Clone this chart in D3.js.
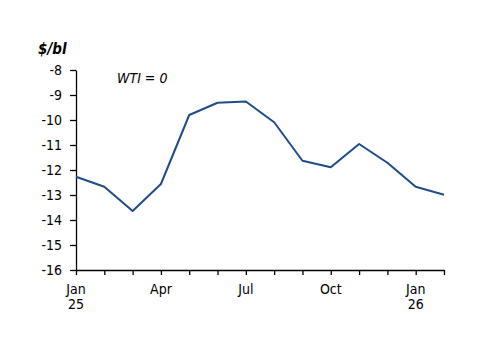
<!DOCTYPE html>
<html>
<head>
<meta charset="utf-8">
<script src="https://cdn.jsdelivr.net/npm/d3@7"></script>
<style>
  body { margin: 0; background: #fff; }
  svg text { font-family: "DejaVu Sans Condensed", "DejaVu Sans", sans-serif; fill: #000; }
</style>
</head>
<body>
<svg id="chart" width="500" height="353"></svg>
<script>
// monthly spread, Jan 25 .. Feb 26
const months = ['2025-01', '2025-02', '2025-03', '2025-04', '2025-05', '2025-06', '2025-07',
  '2025-08', '2025-09', '2025-10', '2025-11', '2025-12', '2026-01', '2026-02']
const values = [-12.27, -12.67, -13.64, -12.56, -9.8, -9.31, -9.26,
  -10.09, -11.63, -11.89, -10.96, -11.71, -12.67, -12.99]
const yTicks = [-16, -15, -14, -13, -12, -11, -10, -9, -8]
const xLabels = [['Jan', '25'], ['Apr'], ['Jul'], ['Oct'], ['Jan', '26']]
const xLabelIdx = [0, 3, 6, 9, 12]

const svg = d3.select('#chart')
const margin = {top: 70, right: 56, bottom: 83, left: 76}
const width = 500 - margin.left - margin.right
const height = 353 - margin.top - margin.bottom

const g = svg.append('g').attr('transform', `translate(${margin.left}, ${margin.top})`)

const x = d3.scalePoint().domain(months).range([0, width])
const y = d3.scaleLinear().domain([-16, -8]).range([height, 0])

const yAxis = g.append('g')
  .call(d3.axisLeft(y).tickValues(yTicks).tickSize(6).tickPadding(8).tickSizeOuter(0)
    .tickFormat(d => String(d)))
yAxis.selectAll('text').style('font-size', '14px')

const xAxis = g.append('g')
  .attr('transform', `translate(0, ${height})`)
  .call(d3.axisBottom(x).tickSize(5).tickSizeOuter(0).tickFormat(''))
g.selectAll('.domain').attr('stroke', '#000').attr('stroke-width', 1.3)
g.selectAll('.tick line').attr('stroke', '#000').attr('stroke-width', 1.3)

xLabelIdx.forEach((idx, i) => {
  const t = g.append('text')
    .attr('x', x(months[idx]))
    .attr('y', height + 24)
    .attr('text-anchor', 'middle')
    .style('font-size', '14px')
  xLabels[i].forEach((s, j) => {
    t.append('tspan').attr('x', x(months[idx])).attr('dy', j === 0 ? 0 : 15).text(s)
  })
})

const line = d3.line().x((d, i) => x(months[i])).y(d => y(d))
g.append('path')
  .datum(values)
  .attr('fill', 'none')
  .attr('stroke', '#1f4c88')
  .attr('stroke-width', 2)
  .attr('stroke-linejoin', 'round')
  .attr('d', line)

svg.append('text')
  .attr('x', 38).attr('y', 54)
  .style('font-size', '15px').style('font-weight', 'bold').style('font-style', 'italic')
  .text('$/bl')

svg.append('text')
  .attr('x', 117).attr('y', 83)
  .style('font-size', '14px').style('font-style', 'italic')
  .text('WTI = 0')
</script>
</body>
</html>
